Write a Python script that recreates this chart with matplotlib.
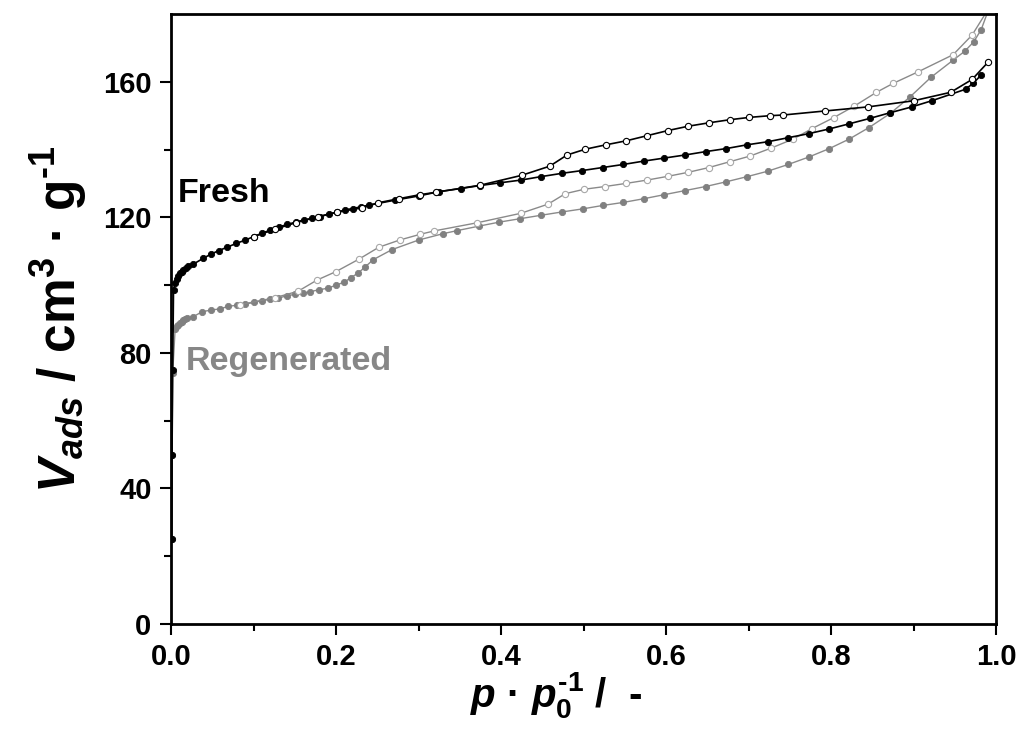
import matplotlib
matplotlib.use('Agg')
import matplotlib.pyplot as plt

plt.rcParams['font.family'] = ['Liberation Sans', 'DejaVu Sans']
plt.rcParams['font.weight'] = 'bold'
plt.rcParams['mathtext.fontset'] = 'custom'
plt.rcParams['mathtext.rm'] = 'Liberation Sans:bold'
plt.rcParams['mathtext.it'] = 'Liberation Sans:bold:italic'
plt.rcParams['mathtext.bf'] = 'Liberation Sans:bold'

# fresh sample, adsorption branch
fresh_ads_x = [0.0007, 0.0012, 0.002, 0.003, 0.005, 0.007, 0.009, 0.011, 0.013, 0.015, 0.018, 0.021,
               0.027, 0.039, 0.048, 0.058, 0.068, 0.079, 0.090, 0.100, 0.110, 0.120, 0.131, 0.141,
               0.151, 0.161, 0.171, 0.181, 0.191, 0.201, 0.211, 0.220, 0.230, 0.240, 0.272, 0.300,
               0.325, 0.351, 0.375, 0.399, 0.424, 0.448, 0.474, 0.498, 0.523, 0.548, 0.573, 0.598,
               0.623, 0.648, 0.673, 0.698, 0.723, 0.748, 0.773, 0.798, 0.822, 0.847, 0.872, 0.898,
               0.922, 0.963, 0.972, 0.982]
fresh_ads_y = [25, 50, 75, 98.6, 100.5, 101.8, 102.8, 103.5, 104.0, 104.5, 105.0, 105.5,
               106.2, 107.9, 109.1, 110.2, 111.2, 112.3, 113.3, 114.3, 115.3, 116.2, 117.2, 117.9,
               118.6, 119.2, 119.7, 120.2, 121.0, 121.5, 122.2, 122.6, 123.1, 123.6, 125.1, 126.3,
               127.6, 128.5, 129.4, 130.2, 131.0, 132.0, 133.0, 133.8, 134.7, 135.6, 136.6, 137.5,
               138.4, 139.4, 140.3, 141.4, 142.3, 143.5, 144.7, 146.1, 147.6, 149.2, 150.9, 152.6,
               154.4, 157.8, 159.5, 162.0]

# fresh sample, desorption branch
fresh_des_x = [0.990, 0.971, 0.945, 0.900, 0.845, 0.793, 0.742, 0.726, 0.701, 0.677, 0.652, 0.627,
               0.602, 0.577, 0.552, 0.527, 0.502, 0.480, 0.459, 0.425, 0.375, 0.321, 0.302, 0.276,
               0.251, 0.231, 0.201, 0.178, 0.151, 0.126, 0.100]
fresh_des_y = [165.7, 160.7, 156.9, 154.4, 152.6, 151.4, 150.2, 150.0, 149.5, 148.8, 147.9, 146.9,
               145.6, 144.1, 142.6, 141.4, 140.1, 138.4, 135.1, 132.4, 129.5, 127.4, 126.7, 125.5,
               124.3, 122.8, 121.5, 120.2, 118.4, 116.5, 114.3]

# regenerated sample, adsorption branch
regen_ads_x = [0.0007, 0.0012, 0.002, 0.005, 0.007, 0.009, 0.011, 0.013, 0.015, 0.017, 0.019,
               0.027, 0.038, 0.048, 0.059, 0.069, 0.080, 0.090, 0.100, 0.110, 0.120, 0.130, 0.140,
               0.150, 0.160, 0.169, 0.179, 0.190, 0.200, 0.210, 0.218, 0.227, 0.235, 0.245, 0.268,
               0.300, 0.330, 0.347, 0.373, 0.398, 0.423, 0.448, 0.474, 0.499, 0.523, 0.548, 0.573,
               0.598, 0.623, 0.648, 0.673, 0.698, 0.723, 0.748, 0.773, 0.798, 0.822, 0.846, 0.872,
               0.896, 0.921, 0.948, 0.962, 0.973, 0.982, 0.992]
regen_ads_y = [25, 50, 74, 87.2, 87.8, 88.3, 88.8, 89.2, 89.6, 89.9, 90.2,
               90.7, 92.2, 92.6, 93.0, 93.7, 94.1, 94.4, 94.9, 95.4, 95.8, 96.2, 96.8,
               97.3, 97.6, 98.1, 98.6, 99.1, 100.0, 100.9, 102.2, 103.6, 105.3, 107.5, 110.5,
               113.3, 115.2, 116.1, 117.4, 118.6, 119.6, 120.6, 121.6, 122.5, 123.5, 124.4, 125.5,
               126.7, 127.9, 129.1, 130.5, 132.0, 133.6, 135.6, 137.8, 140.3, 143.1, 146.5, 150.7,
               155.6, 161.3, 166.4, 169.0, 171.8, 175.4, 182.0]

# regenerated sample, desorption branch
regen_des_x = [0.992, 0.971, 0.948, 0.906, 0.875, 0.855, 0.828, 0.803, 0.777, 0.754, 0.727, 0.702,
               0.677, 0.652, 0.627, 0.602, 0.577, 0.551, 0.526, 0.501, 0.478, 0.457, 0.424, 0.371,
               0.319, 0.302, 0.277, 0.252, 0.228, 0.200, 0.177, 0.154, 0.126, 0.083]
regen_des_y = [182.0, 173.8, 168.0, 163.0, 159.5, 156.9, 152.8, 149.4, 146.2, 143.1, 140.4, 138.1,
               136.4, 134.7, 133.3, 132.1, 131.0, 130.0, 129.1, 128.3, 127.0, 123.9, 121.2, 118.4,
               116.0, 115.0, 113.3, 111.2, 107.7, 104.0, 101.5, 98.2, 96.3, 94.2]

fig = plt.figure(figsize=(10.26, 7.42), dpi=100)
ax = fig.add_axes([0.1667, 0.159, 0.8041, 0.8221])

# regenerated first so the black curves sit on top
ax.plot(regen_ads_x, regen_ads_y, '-o', color='#8a8a8a', lw=1.0, ms=4.5,
        mfc='#808080', mec='#808080', mew=0.6)
ax.plot(regen_des_x, regen_des_y, '-o', color='#8a8a8a', lw=1.0, ms=4.5,
        mfc='white', mec='#a8a8a8', mew=0.8)
ax.plot(fresh_ads_x, fresh_ads_y, '-o', color='black', lw=1.2, ms=4.5,
        mfc='black', mec='black', mew=0.6)
ax.plot(fresh_des_x, fresh_des_y, '-o', color='black', lw=1.2, ms=4.5,
        mfc='white', mec='black', mew=0.8)

ax.set_xlim(0, 1.0)
ax.set_ylim(0, 180)
ax.set_xticks([0.0, 0.2, 0.4, 0.6, 0.8, 1.0])
ax.set_xticks([0.1, 0.3, 0.5, 0.7, 0.9], minor=True)
ax.set_yticks([0, 40, 80, 120, 160])
ax.set_yticks([20, 60, 100, 140], minor=True)
ax.tick_params(which='major', direction='out', length=8, width=1.5, labelsize=21, pad=6)
ax.tick_params(which='minor', direction='out', length=5, width=1.5)
for s in ax.spines.values():
    s.set_linewidth(2)
for lab in ax.get_xticklabels() + ax.get_yticklabels():
    lab.set_fontweight('bold')

ax.text(0.008, 127, 'Fresh', fontsize=24.5, fontweight='bold', color='black', va='center')
ax.text(0.018, 77.5, 'Regenerated', fontsize=24.5, fontweight='bold', color='#878787', va='center')

ax.set_ylabel('$V_{ads}$ / cm$^{3}$ · g$^{\u20101}$', fontsize=37, fontweight='bold', labelpad=10)
ax.set_xlabel('$p$ · $p_{\\mathit{0}}^{\\mathit{\u20101}}$ /  -', fontsize=29, fontweight='bold', labelpad=2)
ax.xaxis.set_label_coords(0.467, -0.075)

fig.savefig('out.png', dpi=100)
